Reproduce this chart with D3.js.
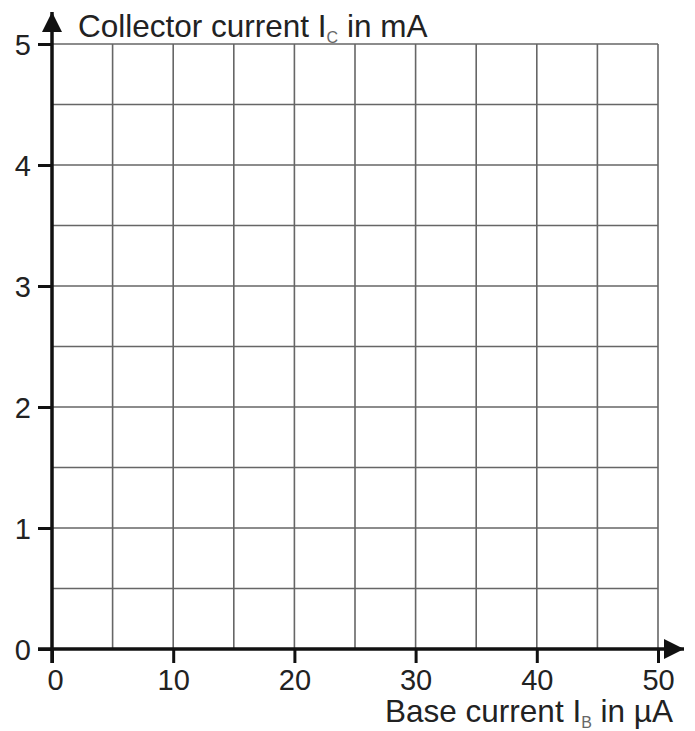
<!DOCTYPE html>
<html>
<head>
<meta charset="utf-8">
<title>transistor characteristic grid</title>
<script src="https://cdn.jsdelivr.net/npm/d3@7"></script>
<style>
  body { margin: 0; background: #fff; }
  text { font-family: "Liberation Sans", Arial, sans-serif; fill: #222; }
</style>
</head>
<body>
<svg width="695" height="731" id="mainsvg"></svg>
<script>
// data: axis ranges, ticks and grid positions
const xDomain = [0, 50];
const yDomain = [0, 5];
const xTicks = [0, 10, 20, 30, 40, 50];
const yTicks = [0, 1, 2, 3, 4, 5];
const xGrid = [5, 10, 15, 20, 25, 30, 35, 40, 45, 50];
const yGrid = [0.5, 1, 1.5, 2, 2.5, 3, 3.5, 4, 4.5, 5];
const yTitle = ['Collector current I', 'C', ' in mA'];
const xTitle = ['Base current I', 'B', ' in \u00b5A'];

const svg = d3.select('svg');
const margin = {top: 44, left: 52, right: 37, bottom: 82};
const width = +svg.attr('width');
const height = +svg.attr('height');

const xScale = d3.scaleLinear().domain(xDomain).range([margin.left, width - margin.right]);
const yScale = d3.scaleLinear().domain(yDomain).range([height - margin.bottom, margin.top]);

const g = svg.append('g');

// grid
g.selectAll('.vgrid').data(xGrid).join('line')
  .attr('class', 'vgrid')
  .attr('x1', d => xScale(d)).attr('x2', d => xScale(d))
  .attr('y1', yScale(0)).attr('y2', yScale(5))
  .attr('stroke', '#666').attr('stroke-width', 1.6);

g.selectAll('.hgrid').data(yGrid).join('line')
  .attr('class', 'hgrid')
  .attr('x1', xScale(0)).attr('x2', xScale(50))
  .attr('y1', d => yScale(d)).attr('y2', d => yScale(d))
  .attr('stroke', '#666').attr('stroke-width', 1.6);

// axes with d3 axis generators
const xAxis = d3.axisBottom(xScale).tickValues(xTicks).tickSize(14).tickPadding(6).tickFormat(d3.format('d'));
const yAxis = d3.axisLeft(yScale).tickValues(yTicks).tickSize(14).tickPadding(6).tickFormat(d3.format('d'));

const xAxisG = g.append('g').attr('transform', `translate(0,${yScale(0)})`).call(xAxis);
const yAxisG = g.append('g').attr('transform', `translate(${xScale(0)},0)`).call(yAxis);

xAxisG.select('.domain').remove();
yAxisG.select('.domain').remove();
xAxisG.selectAll('.tick line').attr('stroke', '#111').attr('stroke-width', 3);
yAxisG.selectAll('.tick line').attr('stroke', '#111').attr('stroke-width', 3);
xAxisG.selectAll('.tick text').style('font-size', '29px').attr('fill', '#222')
  .style('font-family', '"Liberation Sans", Arial, sans-serif').attr('dy', '0.72em');
yAxisG.selectAll('.tick text').style('font-size', '29px').attr('fill', '#222')
  .style('font-family', '"Liberation Sans", Arial, sans-serif').attr('dx', '0').attr('dy', '0.36em');
// label 0 on x axis sits slightly right of tick
xAxisG.selectAll('.tick').filter(d => d === 0).select('text').attr('x', 3);
yAxisG.selectAll('.tick text').attr('x', -21);

// axis lines with arrows
svg.append('defs').append('marker')
  .attr('id', 'arrow').attr('viewBox', '0 0 10 10')
  .attr('refX', 10).attr('refY', 5)
  .attr('markerWidth', 22).attr('markerHeight', 20)
  .attr('markerUnits', 'userSpaceOnUse')
  .attr('orient', 'auto')
  .append('path').attr('d', 'M0,0 L10,5 L0,10 Z').attr('fill', '#111');

g.append('line')
  .attr('x1', xScale(0) - 14).attr('x2', width - 11)
  .attr('y1', yScale(0)).attr('y2', yScale(0))
  .attr('stroke', '#111').attr('stroke-width', 3.5)
  .attr('marker-end', 'url(#arrow)');

g.append('line')
  .attr('x1', xScale(0)).attr('x2', xScale(0))
  .attr('y1', yScale(0) + 14).attr('y2', 12)
  .attr('stroke', '#111').attr('stroke-width', 3.5)
  .attr('marker-end', 'url(#arrow)');

// axis titles
const yT = g.append('text')
  .attr('x', 78).attr('y', 37)
  .style('font-size', '31.5px');
yT.append('tspan').text(yTitle[0]);
yT.append('tspan').text(yTitle[1]).style('font-size', '16px').attr('dy', 6).attr('fill', '#666');
yT.append('tspan').text(yTitle[2]).attr('dy', -6);

const xT = g.append('text')
  .attr('x', 673).attr('y', 722)
  .attr('text-anchor', 'end')
  .style('font-size', '31.5px');
xT.append('tspan').text(xTitle[0]);
xT.append('tspan').text(xTitle[1]).style('font-size', '16px').attr('dy', 6).attr('fill', '#666');
xT.append('tspan').text(xTitle[2]).attr('dy', -6);
</script>
</body>
</html>
